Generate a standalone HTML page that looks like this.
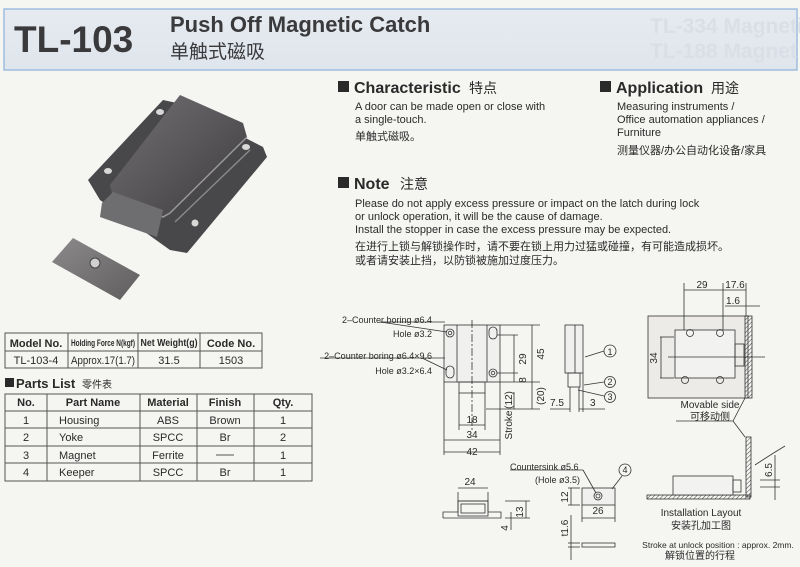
<!DOCTYPE html>
<html><head><meta charset="utf-8"><style>
html,body{margin:0;padding:0;background:#f5f5f2;}
svg{display:block;font-family:"Liberation Sans","Noto Sans CJK SC",sans-serif;}
</style></head><body>
<svg width="800" height="567" viewBox="0 0 800 567" xmlns="http://www.w3.org/2000/svg">
<defs>
<linearGradient id="hd" x1="0" y1="0" x2="0" y2="1"><stop offset="0" stop-color="#e6ebf1"/><stop offset="1" stop-color="#dfe5ec"/></linearGradient>
<linearGradient id="mt" x1="0" y1="0" x2="1" y2="1"><stop offset="0" stop-color="#727073"/><stop offset="0.5" stop-color="#59575a"/><stop offset="1" stop-color="#3a393c"/></linearGradient>
<linearGradient id="kp" x1="0" y1="0" x2="1" y2="1"><stop offset="0" stop-color="#8c8a8b"/><stop offset="1" stop-color="#5f5d5e"/></linearGradient>
<pattern id="hatch" width="3" height="3" patternUnits="userSpaceOnUse" patternTransform="rotate(45)"><line x1="0" y1="0" x2="0" y2="3" stroke="#444" stroke-width="1"/></pattern>
</defs>
<rect width="800" height="567" fill="#f5f5f2"/>
<!-- header -->
<rect x="4" y="9" width="793" height="61" fill="url(#hd)" stroke="#9fbde0" stroke-width="1.5"/>
<text x="14" y="52" font-size="37" font-weight="bold" fill="#3a3a3c">TL-103</text>
<text x="170" y="32" font-size="22" font-weight="bold" fill="#3a3a3c">Push Off Magnetic Catch</text>
<text x="170" y="58" font-size="19" fill="#3a3a3c">单触式磁吸</text>
<text x="650" y="33" font-size="21" font-weight="bold" fill="#d9dfe6">TL-334  Magnetic</text>
<text x="650" y="58" font-size="21" font-weight="bold" fill="#d9dfe6">TL-188  Magnet Ba</text>

<!-- photo -->
<polygon points="88,180 163,100 177,103 263,147 267,157 187,253 170,250 100,200" fill="#48474a"/>
<polygon points="110,185 180,95 243,123 247,137 170,213 163,217 112,193" fill="url(#mt)"/>
<polyline points="112,193 163,217 170,213 247,137" fill="none" stroke="#9a989b" stroke-width="1.5"/>
<polygon points="102,203 113,192 163,210 157,237 100,217" fill="#6e6d70"/>
<polyline points="175,222 250,150" stroke="#8a888b" stroke-width="1.5" fill="none"/>
<ellipse cx="160" cy="112" rx="4" ry="3" fill="#d8d8d6"/><ellipse cx="246" cy="147" rx="4" ry="3" fill="#d8d8d6"/>
<ellipse cx="108" cy="171" rx="4" ry="3" fill="#d8d8d6"/><circle cx="195" cy="223" r="3.5" fill="#d8d8d6"/>
<polygon points="52,262 73,238 140,275 120,300" fill="url(#kp)"/>
<circle cx="95" cy="263" r="5" fill="#cfcfcf" stroke="#444"/>

<!-- text right -->
<g fill="#2a2a2a">
<rect x="338" y="81" width="11" height="11"/>
<text x="354" y="93" font-size="16" font-weight="bold">Characteristic</text>
<text x="469" y="93" font-size="14">特点</text>
<g font-size="11"><text x="355" y="110">A door can be made open or close with</text>
<text x="355" y="123">a single-touch.</text>
<text x="355" y="140">单触式磁吸。</text></g>
<rect x="600" y="81" width="11" height="11"/>
<text x="616" y="93" font-size="16" font-weight="bold">Application</text>
<text x="711" y="93" font-size="14">用途</text>
<g font-size="11"><text x="617" y="110">Measuring instruments /</text>
<text x="617" y="123">Office automation appliances /</text>
<text x="617" y="136">Furniture</text>
<text x="617" y="154">测量仪器/办公自动化设备/家具</text></g>
<rect x="338" y="177" width="11" height="11"/>
<text x="354" y="189" font-size="16" font-weight="bold">Note</text>
<text x="400" y="189" font-size="14">注意</text>
<g font-size="11"><text x="355" y="207">Please do not apply excess pressure or impact on the latch during lock</text>
<text x="355" y="220">or unlock operation, it will be the cause of damage.</text>
<text x="355" y="233">Install the stopper in case the excess pressure may be expected.</text>
<text x="355" y="250">在进行上锁与解锁操作时，请不要在锁上用力过猛或碰撞，有可能造成损坏。</text>
<text x="355" y="264">或者请安装止挡，以防锁被施加过度压力。</text></g>
</g>

<!-- model table -->
<g stroke="#555" stroke-width="1" fill="none">
<rect x="5" y="333" width="257" height="35"/>
<line x1="5" y1="351" x2="262" y2="351"/>
<line x1="68" y1="333" x2="68" y2="368"/><line x1="138" y1="333" x2="138" y2="368"/><line x1="200" y1="333" x2="200" y2="368"/>
</g>
<g fill="#2a2a2a" font-size="11" text-anchor="middle">
<text x="36" y="347" font-weight="bold">Model No.</text>
<text x="103" y="346" font-size="9" font-weight="bold" textLength="64" lengthAdjust="spacingAndGlyphs">Holding Force N(kgf)</text>
<text x="169" y="346" font-size="10" font-weight="bold" textLength="57" lengthAdjust="spacingAndGlyphs">Net Weight(g)</text>
<text x="231" y="347" font-weight="bold">Code No.</text>
<text x="36" y="364">TL-103-4</text><text x="103" y="364" textLength="64" lengthAdjust="spacingAndGlyphs">Approx.17(1.7)</text><text x="169" y="364">31.5</text><text x="231" y="364">1503</text>
</g>
<rect x="5" y="378" width="9" height="9" fill="#2a2a2a"/>
<text x="16" y="388" font-size="13" font-weight="bold" fill="#2a2a2a">Parts List</text>
<text x="82" y="388" font-size="10" fill="#2a2a2a">零件表</text>
<g stroke="#555" stroke-width="1" fill="none">
<rect x="5" y="394" width="307" height="87"/>
<line x1="5" y1="411" x2="312" y2="411"/><line x1="5" y1="428" x2="312" y2="428"/><line x1="5" y1="446" x2="312" y2="446"/><line x1="5" y1="463" x2="312" y2="463"/>
<line x1="47" y1="394" x2="47" y2="481"/><line x1="140" y1="394" x2="140" y2="481"/><line x1="197" y1="394" x2="197" y2="481"/><line x1="254" y1="394" x2="254" y2="481"/>
</g>
<g fill="#2a2a2a" font-size="11" text-anchor="middle">
<g font-weight="bold"><text x="26" y="406">No.</text><text x="93" y="406">Part Name</text><text x="168" y="406">Material</text><text x="225" y="406">Finish</text><text x="283" y="406">Qty.</text></g>
<text x="26" y="424">1</text><text x="168" y="424">ABS</text><text x="225" y="424">Brown</text><text x="283" y="424">1</text>
<text x="26" y="441">2</text><text x="168" y="441">SPCC</text><text x="225" y="441">Br</text><text x="283" y="441">2</text>
<text x="26" y="459">3</text><text x="168" y="459">Ferrite</text><text x="283" y="459">1</text>
<text x="26" y="476">4</text><text x="168" y="476">SPCC</text><text x="225" y="476">Br</text><text x="283" y="476">1</text>
<g text-anchor="start"><text x="59" y="424">Housing</text><text x="59" y="441">Yoke</text><text x="59" y="459">Magnet</text><text x="59" y="476">Keeper</text></g>
</g>
<line x1="216" y1="455" x2="234" y2="455" stroke="#555"/>

<!-- front view drawing -->
<g stroke="#333" stroke-width="0.8" fill="none">
<rect x="444" y="325" width="56" height="57" fill="#f0f0ee"/>
<line x1="457" y1="325" x2="457" y2="382"/><line x1="487" y1="325" x2="487" y2="382"/>
<rect x="459" y="382" width="26" height="11"/>
<line x1="472" y1="320" x2="472" y2="430" stroke-dasharray="8,2,2,2"/>
<circle cx="450" cy="333" r="4"/><circle cx="450" cy="333" r="1.8"/>
<rect x="446" y="366" width="8" height="12" rx="4"/>
<rect x="489" y="327" width="8" height="12" rx="4"/>
<circle cx="493" cy="373" r="4"/><circle cx="493" cy="373" r="1.8"/>
<line x1="444" y1="382" x2="444" y2="455"/><line x1="500" y1="382" x2="500" y2="455"/>
<line x1="459" y1="393" x2="459" y2="430"/><line x1="485" y1="393" x2="485" y2="430"/>
<line x1="459" y1="425" x2="485" y2="425"/><line x1="444" y1="440" x2="500" y2="440"/><line x1="444" y1="452" x2="500" y2="452"/>
<line x1="500" y1="325" x2="540" y2="325"/><line x1="497" y1="335" x2="518" y2="335"/><line x1="497" y1="373" x2="518" y2="373"/>
<line x1="500" y1="382" x2="540" y2="382"/><line x1="486" y1="409" x2="540" y2="409"/>
<line x1="514" y1="335" x2="514" y2="373"/><line x1="532" y1="325" x2="532" y2="382"/><line x1="514" y1="373" x2="514" y2="382"/>
<line x1="532" y1="382" x2="532" y2="409"/><line x1="514" y1="392" x2="514" y2="409"/>
<line x1="380" y1="322" x2="445" y2="322"/><line x1="380" y1="322" x2="447" y2="332"/>
<line x1="320" y1="358" x2="445" y2="358"/><line x1="422" y1="358" x2="447" y2="370"/>
<!-- side view -->
<rect x="565" y="325" width="18" height="48" fill="#f0f0ee"/>
<line x1="575" y1="325" x2="575" y2="373"/>
<rect x="568" y="373" width="12" height="14"/>
<line x1="570" y1="387" x2="570" y2="412"/><line x1="579" y1="387" x2="579" y2="412"/><line x1="583" y1="373" x2="583" y2="412"/>
<line x1="550" y1="409" x2="570" y2="409"/><line x1="579" y1="409" x2="605" y2="409"/>
<circle cx="610" cy="351" r="6"/><line x1="604" y1="351" x2="585" y2="357"/>
<circle cx="610" cy="382" r="5.5"/><line x1="604" y1="382" x2="584" y2="385"/>
<circle cx="610" cy="397" r="5.5"/><line x1="604" y1="396" x2="578" y2="390"/>
<!-- bottom small -->
<rect x="458" y="501" width="30" height="15"/><rect x="461" y="504" width="24" height="9"/>
<polyline points="443,518 443,512 458,512 458,501 488,501 488,512 501,512 501,518 443,518"/>
<line x1="458" y1="492" x2="458" y2="501"/><line x1="488" y1="492" x2="488" y2="501"/><line x1="458" y1="488" x2="488" y2="488"/>
<line x1="505" y1="501" x2="530" y2="501"/><line x1="505" y1="518" x2="530" y2="518"/><line x1="526" y1="501" x2="526" y2="518"/>
<line x1="511" y1="512" x2="511" y2="530"/>
<rect x="582" y="488" width="33" height="17" fill="#f0f0ee"/>
<circle cx="598" cy="496" r="4"/><circle cx="598" cy="496" r="2"/>
<line x1="582" y1="505" x2="582" y2="522"/><line x1="615" y1="505" x2="615" y2="522"/><line x1="582" y1="518" x2="615" y2="518"/>
<line x1="568" y1="488" x2="580" y2="488"/><line x1="568" y1="505" x2="580" y2="505"/><line x1="571" y1="488" x2="571" y2="505"/>
<line x1="510" y1="470" x2="583" y2="470"/><line x1="583" y1="470" x2="596" y2="493"/>
<circle cx="625" cy="470" r="6"/><line x1="622" y1="476" x2="612" y2="489"/>
<rect x="582" y="543" width="33" height="4"/>
<line x1="568" y1="543" x2="580" y2="543"/><line x1="568" y1="547" x2="580" y2="547"/><line x1="571" y1="515" x2="571" y2="560"/>
<!-- install right -->
<rect x="648" y="316" width="100" height="82" fill="#ecebe8"/>
<rect x="745" y="316" width="7" height="82" fill="url(#hatch)"/>
<rect x="675" y="330" width="60" height="48" fill="#f2f2f0"/>
<rect x="735" y="344" width="9" height="22"/>
<line x1="668" y1="357" x2="765" y2="357"/>
<circle cx="690" cy="333" r="3.5"/><circle cx="720" cy="333" r="3.5"/><circle cx="685" cy="380" r="3.5"/><circle cx="720" cy="380" r="3.5"/>
<line x1="684" y1="283" x2="684" y2="330"/><line x1="723" y1="283" x2="723" y2="330"/><line x1="746" y1="283" x2="746" y2="316"/>
<line x1="684" y1="290" x2="723" y2="290"/><line x1="723" y1="290" x2="746" y2="290"/><line x1="725" y1="306" x2="760" y2="306"/>
<line x1="660" y1="337" x2="674" y2="337"/><line x1="660" y1="378" x2="674" y2="378"/><line x1="661" y1="337" x2="661" y2="378"/>
<line x1="676" y1="421" x2="733" y2="421"/><line x1="733" y1="421" x2="745" y2="398"/><line x1="733" y1="421" x2="745" y2="437"/>
<rect x="746" y="437" width="5" height="60" fill="url(#hatch)"/>
<rect x="647" y="495" width="103" height="4" fill="url(#hatch)"/>
<rect x="673" y="476" width="60" height="19" fill="#f2f2f0"/>
<rect x="733" y="480" width="8" height="12"/>
<line x1="760" y1="480" x2="780" y2="480"/><line x1="760" y1="487" x2="780" y2="487"/><line x1="775" y1="455" x2="775" y2="500"/>
<path d="M755,465 Q770,455 785,446"/>
</g>
<g fill="#2a2a2a" font-size="9">
<g text-anchor="end"><text x="432" y="323">2–Counter boring ø6.4</text><text x="432" y="337">Hole ø3.2</text>
<text x="432" y="359">2–Counter boring ø6.4×9.6</text><text x="432" y="374">Hole ø3.2×6.4</text></g>
<text x="472" y="423" text-anchor="middle" font-size="10">18</text>
<text x="472" y="438" text-anchor="middle" font-size="10">34</text>
<text x="472" y="455" text-anchor="middle" font-size="10">42</text>
<text transform="translate(526,359) rotate(-90)" text-anchor="middle" font-size="10">29</text>
<text transform="translate(544,354) rotate(-90)" text-anchor="middle" font-size="10">45</text>
<text transform="translate(526,380) rotate(-90)" text-anchor="middle" font-size="10">8</text>
<text transform="translate(544,396) rotate(-90)" text-anchor="middle" font-size="10">(20)</text>
<text transform="translate(512,400) rotate(-90)" text-anchor="middle" font-size="10">(12)</text>
<text transform="translate(512,425) rotate(-90)" text-anchor="middle" font-size="10">Stroke</text>
<text x="550" y="406" font-size="10">7.5</text><text x="590" y="406" font-size="10">3</text>
<text x="610" y="355" text-anchor="middle">1</text><text x="610" y="385" text-anchor="middle">2</text><text x="610" y="400" text-anchor="middle">3</text>
<text x="625" y="473" text-anchor="middle">4</text>
<text x="470" y="485" text-anchor="middle" font-size="10">24</text>
<text transform="translate(523,512) rotate(-90)" text-anchor="middle" font-size="10">13</text>
<text transform="translate(508,528) rotate(-90)" text-anchor="middle" font-size="10">4</text>
<text x="510" y="470">Countersink ø5.6</text><text x="535" y="483">(Hole ø3.5)</text>
<text transform="translate(568,497) rotate(-90)" text-anchor="middle" font-size="10">12</text>
<text x="598" y="514" text-anchor="middle" font-size="10">26</text>
<text transform="translate(568,528) rotate(-90)" text-anchor="middle" font-size="10">t1.6</text>
<text x="702" y="288" text-anchor="middle" font-size="10">29</text><text x="735" y="288" text-anchor="middle" font-size="10">17.6</text>
<text x="733" y="304" text-anchor="middle" font-size="10">1.6</text>
<text transform="translate(657,358) rotate(-90)" text-anchor="middle" font-size="10">34</text>
<text x="710" y="408" text-anchor="middle" font-size="10">Movable side</text><text x="710" y="420" text-anchor="middle" font-size="10">可移动侧</text>
<text transform="translate(772,470) rotate(-90)" text-anchor="middle" font-size="10">6.5</text>
<text x="701" y="516" text-anchor="middle" font-size="10">Installation Layout</text>
<text x="701" y="529" text-anchor="middle" font-size="10">安装孔加工图</text>
<text x="718" y="548" text-anchor="middle" font-size="8.5">Stroke at unlock position : approx. 2mm.</text>
<text x="700" y="559" text-anchor="middle" font-size="10">解锁位置的行程</text>
</g>
</svg>
</body></html>
